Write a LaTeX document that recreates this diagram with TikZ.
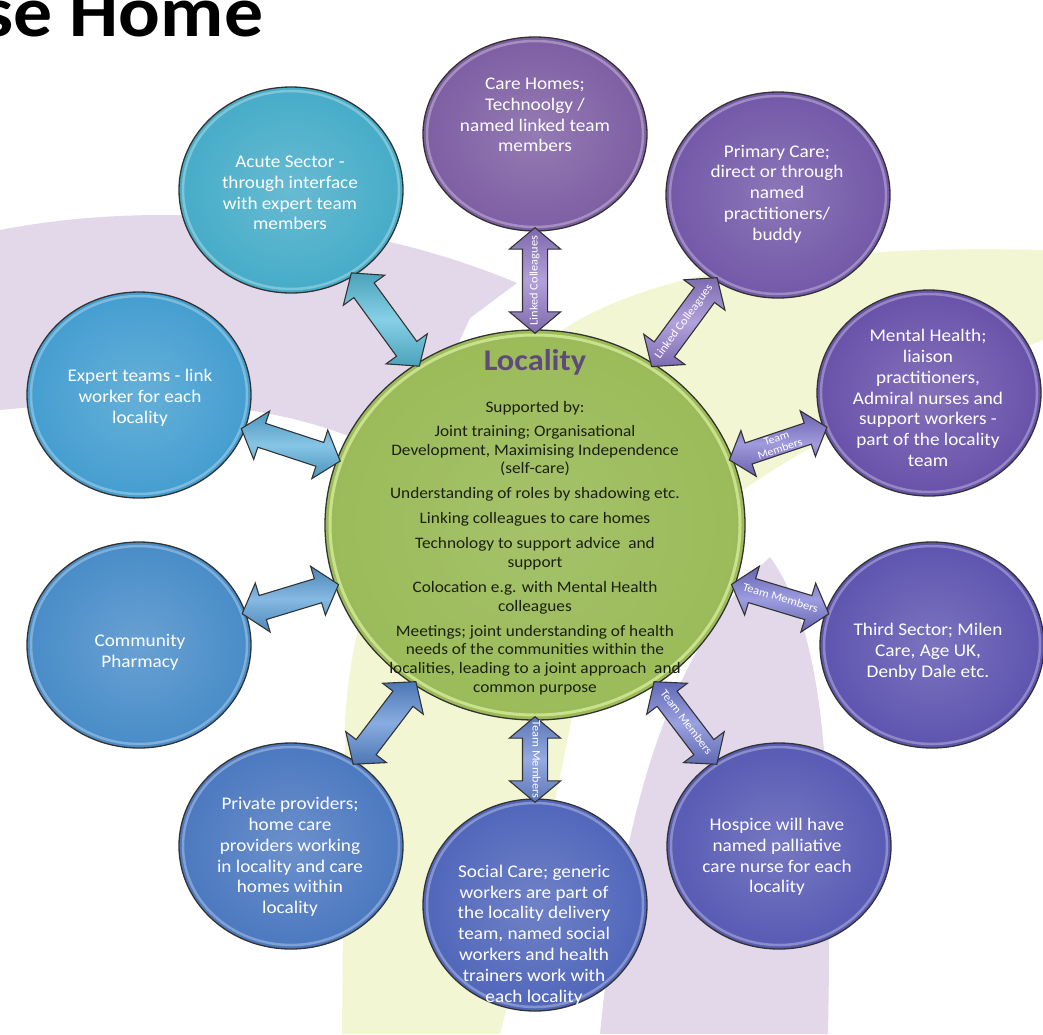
\documentclass[tikz,border=0pt]{standalone}
\usepackage{fontspec}
\usetikzlibrary{shapes.geometric,shapes.arrows,calc}
\newfontfamily\cfont{Carlito}[FakeStretch=1.08]

% background swooshes
\definecolor{bglav}{RGB}{226,216,234}
\definecolor{bgyel}{RGB}{243,246,210}
% hub
\definecolor{hubgreen}{RGB}{155,187,89}
\definecolor{hubrim}{RGB}{210,232,150}
\definecolor{hubtitle}{RGB}{96,74,123}
\definecolor{hubtext}{RGB}{28,32,18}
% satellites
\definecolor{cCare}{RGB}{125,94,163}
\definecolor{cPrim}{RGB}{115,88,168}
\definecolor{cMent}{RGB}{104,82,170}
\definecolor{cThird}{RGB}{94,84,176}
\definecolor{cHosp}{RGB}{88,90,180}
\definecolor{cSoc}{RGB}{80,102,186}
\definecolor{cPriv}{RGB}{75,120,192}
\definecolor{cPharm}{RGB}{72,140,200}
\definecolor{cExp}{RGB}{68,158,208}
\definecolor{cAcute}{RGB}{70,172,200}
% connector fills
\definecolor{aCare}{RGB}{148,124,202}
\definecolor{aPrim}{RGB}{146,126,206}
\definecolor{aMent}{RGB}{124,114,206}
\definecolor{aThird}{RGB}{118,118,210}
\definecolor{aHosp}{RGB}{114,124,212}
\definecolor{aSoc}{RGB}{108,138,212}
\definecolor{aPriv}{RGB}{90,140,212}
\definecolor{aPharm}{RGB}{88,158,216}
\definecolor{aExp}{RGB}{88,174,220}
\definecolor{aAcute}{RGB}{88,190,220}

% double-headed block arrow from hub #2 to satellite #3, fill #4, label #5
\newcommand\linkto[5][]{%
  \path (#2) -- (#3) coordinate[pos=0] (#3-a) coordinate[pos=1] (#3-b);
  \path let \p1=(#3-a), \p2=(#3-b),
        \n1={veclen(\x2-\x1,\y2-\y1)+8},
        \n2={atan2(\y2-\y1,\x2-\x1)} in
    node[linkarrow=#4, minimum height=\n1, rotate=\n2, #1] (#3-link)
      at ($(\p1)!.5!(\p2)$) {#5};
}
\newcommand\lbl[1]{\makebox[0pt]{#1}}

\begin{document}
\begin{tikzpicture}[x=1pt,y=-1pt,
  sat/.style={ellipse, draw=black!80, line width=1.3pt,
    minimum width=224pt, minimum height=206pt, inner sep=0pt,
    shade, inner color=#1!82!white, outer color=#1,
    path picture={\path[draw=white, opacity=.3, line width=2.5pt]
      let \p1=($(path picture bounding box.north east)-(path picture bounding box.center)$) in
      (path picture bounding box.center) ellipse [x radius=\x1-4pt, y radius=\y1-4pt];}},
  sattext/.style={font=\cfont\fontsize{17.8}{20.8}\selectfont, text=white, align=center},
  hub/.style={ellipse, draw=black!80, line width=1.3pt,
    minimum width=420pt, minimum height=390pt, inner sep=0pt,
    shade, inner color=hubgreen!90!white, outer color=hubgreen,
    path picture={\path[draw=hubrim, opacity=.85, line width=3pt]
      let \p1=($(path picture bounding box.north east)-(path picture bounding box.center)$) in
      (path picture bounding box.center) ellipse [x radius=\x1-5pt, y radius=\y1-5pt];}},
  linkarrow/.style={double arrow, draw=black!80, line width=1.1pt,
    double arrow head extend=13pt, double arrow tip angle=100,
    inner sep=0pt, text height=14.5pt, text depth=9.5pt,
    shade, top color=#1!85!black, bottom color=#1!85!black,
    middle color=#1!72!white, text=white,
    font=\cfont\fontsize{11.5}{11.5}\selectfont}
]
\clip (0,0) rectangle (1043,1034);
\fill[white] (0,0) rectangle (1043,1034);

% background swooshes
\fill[bglav] (0,230) .. controls (180,195) and (380,225) .. (517,283)
  -- (470,318) -- (400,470) -- (370,445)
  .. controls (270,400) and (150,395) .. (0,410) -- cycle;
\fill[bgyel] (1043,250) .. controls (860,245) and (680,262) .. (575,322)
  .. controls (430,410) and (355,560) .. (345,720) -- (342,1034) -- (500,1034)
  .. controls (540,880) and (560,780) .. (575,700)
  .. controls (620,560) and (740,460) .. (1043,340) -- cycle;
\fill[bglav] (770,557) .. controls (680,640) and (625,780) .. (600,1034)
  -- (828,1034) .. controls (832,800) and (830,640) .. cycle;

% cropped heading
\node[anchor=base west, inner sep=0pt, font=\cfont\bfseries\fontsize{72}{72}\selectfont]
  (heading) at (-18,36) {se Home};

% hub
\node[hub] (hub) at (535,525) {};
\node[font=\cfont\bfseries\fontsize{30}{32}\selectfont, text=hubtitle] (hubtitle) at (535,362) {Locality};
\node[font=\cfont\fontsize{16}{18.6}\selectfont, text=hubtext, align=center] (hubbody) at (535,548) {%
Supported by:\\[5.5pt]
Joint training; Organisational\\
Development, Maximising Independence\\
(self-care)\\[6.5pt]
Understanding of roles by shadowing etc.\\[6.5pt]
Linking colleagues to care homes\\[6.5pt]
Technology to support advice\ \ and\\
support\\[6.5pt]
Colocation e.g. with Mental Health\\
colleagues\\[6.5pt]
Meetings; joint understanding of health\\
needs of the communities within the\\
localities, leading to a joint approach\ \ and\\
common purpose};

% satellites
\node[sat=cCare, minimum height=194pt] (care) at (535,134) {};
\node[sat=cPrim] (prim) at (778,195) {};
\node[sat=cMent] (ment) at (929,393) {};
\node[sat=cThird] (third) at (932,645) {};
\node[sat=cHosp] (hosp) at (779,846) {};
\node[sat=cSoc, minimum height=212pt] (soc) at (535,905) {};
\node[sat=cPriv] (priv) at (291,846) {};
\node[sat=cPharm] (pharm) at (139,645) {};
\node[sat=cExp] (exp) at (139,395) {};
\node[sat=cAcute] (acute) at (291,190) {};

\node[sattext] (careT) at (535,115) {Care Homes;\\Technoolgy /\\named linked team\\members};
\node[sattext] (primT) at (777,194) {Primary Care;\\direct or through\\named\\practitioners/\\buddy};
\node[sattext] (mentT) at (928,398) {Mental Health;\\liaison\\practitioners,\\Admiral nurses and\\support workers -\\part of the locality\\team};
\node[sattext] (thirdT) at (928,652) {Third Sector; Milen\\Care, Age UK,\\Denby Dale etc.};
\node[sattext] (hospT) at (777,857) {Hospice will have\\named palliative\\care nurse for each\\locality};
\node[sattext] (socT) at (534,935) {Social Care; generic\\workers are part of\\the locality delivery\\team, named social\\workers and health\\trainers work with\\each locality};
\node[sattext] (privT) at (290,857) {Private providers;\\home care\\providers working\\in locality and care\\homes within\\locality};
\node[sattext] (pharmT) at (140,652) {Community\\Pharmacy};
\node[sattext] (expT) at (140,398) {Expert teams - link\\worker for each\\locality};
\node[sattext] (acuteT) at (290,193) {Acute Sector -\\through interface\\with expert team\\members};

% connectors
\linkto{hub}{care}{aCare}{\lbl{Linked Colleagues}}
\linkto{hub}{prim}{aPrim}{\lbl{Linked Colleagues}}
\linkto[align=center, text height=, text depth=, inner ysep=1.5pt,
  font=\cfont\fontsize{11}{11}\selectfont]{hub}{ment}{aMent}{Team\\Members}
\linkto{hub}{third}{aThird}{\lbl{Team Members}}
\linkto{hub}{hosp}{aHosp}{\lbl{Team Members}}
\linkto{hub}{soc}{aSoc}{\lbl{Team Members}}
\linkto{hub}{priv}{aPriv}{}
\linkto{hub}{pharm}{aPharm}{}
\linkto{hub}{exp}{aExp}{}
\linkto{hub}{acute}{aAcute}{}
\end{tikzpicture}
\end{document}
